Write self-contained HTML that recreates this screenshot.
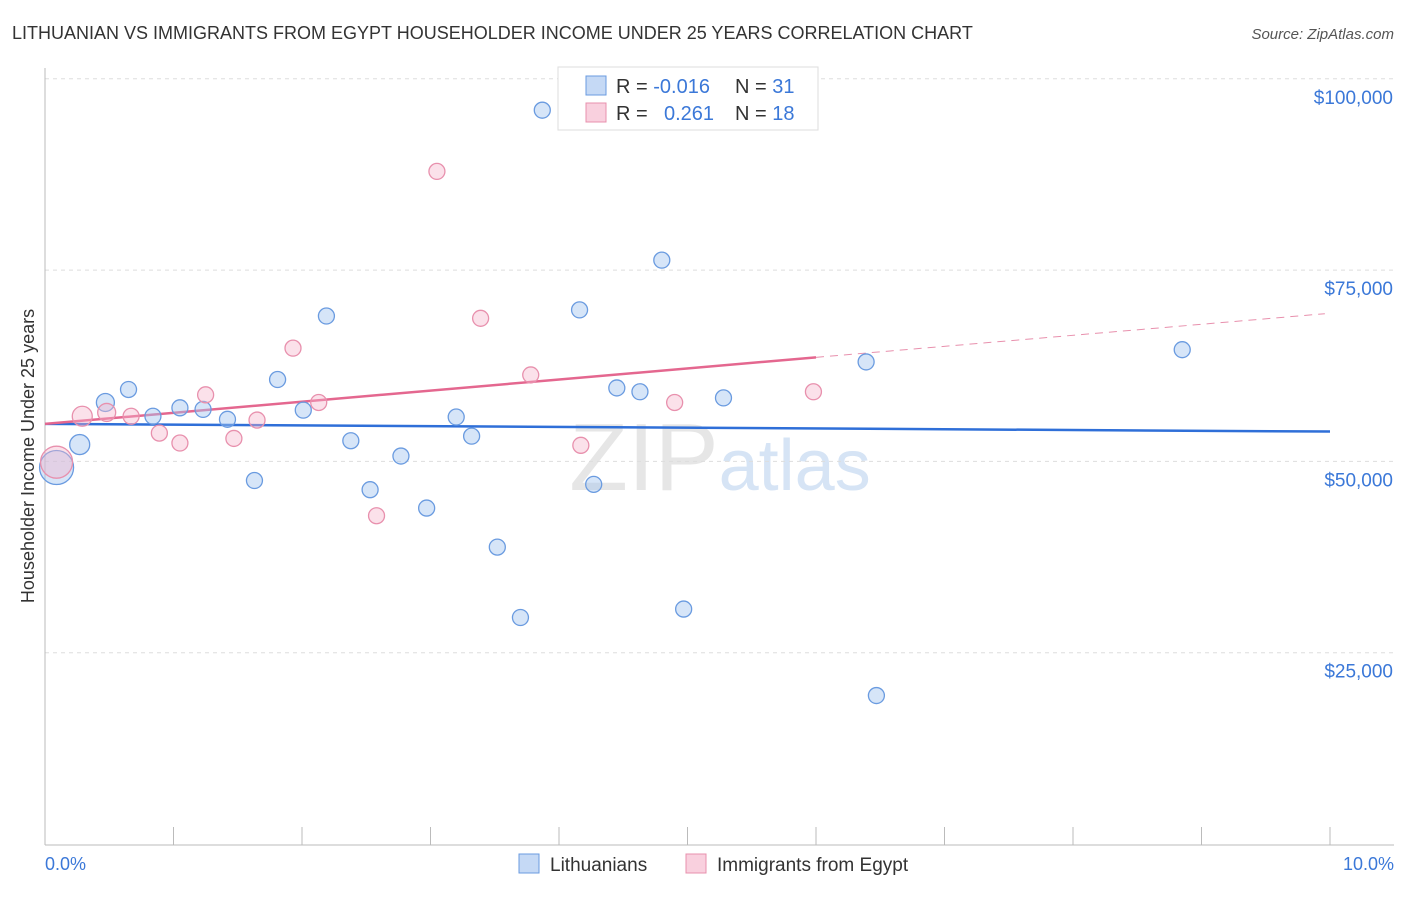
<!DOCTYPE html>
<html><head><meta charset="utf-8"><style>
body{margin:0;background:#fff;font-family:"Liberation Sans",sans-serif;}
svg text{font-family:"Liberation Sans",sans-serif;}
</style></head><body>
<svg width="1406" height="892" viewBox="0 0 1406 892">
<text x="12" y="39" font-size="18" fill="#333">LITHUANIAN VS IMMIGRANTS FROM EGYPT HOUSEHOLDER INCOME UNDER 25 YEARS CORRELATION CHART</text>
<text x="1394" y="39" font-size="15" fill="#555" font-style="italic" text-anchor="end">Source: ZipAtlas.com</text>
<text x="720" y="490" font-size="96" fill="#e6e6e6" text-anchor="middle" font-family="Liberation Serif">ZIP<tspan fill="#d6e4f5" font-family="Liberation Sans" font-size="72">atlas</tspan></text>
<g id="grid"></g>
<line x1="45" y1="68" x2="45" y2="845" stroke="#bbb"/>
<line x1="45" y1="845" x2="1394" y2="845" stroke="#bbb"/>
<g id="xticks"></g>
<text x="45" y="870" font-size="18" fill="#3b78d8">0.0%</text>
<text x="1394" y="870" font-size="18" fill="#3b78d8" text-anchor="end">10.0%</text>
<text transform="translate(34,456) rotate(-90)" font-size="18" fill="#333" text-anchor="middle">Householder Income Under 25 years</text>
<g id="trends"></g>
<g id="points"></g>
<g>
<rect x="558" y="67" width="260" height="63" fill="#fff" stroke="#ddd"/>
<rect x="586" y="76" width="20" height="19" fill="#c5d9f5" stroke="#6a9be0"/>
<rect x="586" y="103" width="20" height="19" fill="#f9d0de" stroke="#e890ad"/>
<text x="616" y="93" font-size="20" fill="#333">R = <tspan fill="#3b78d8">-0.016</tspan><tspan x="735">N = </tspan><tspan fill="#3b78d8">31</tspan></text>
<text x="616" y="120" font-size="20" fill="#333">R = <tspan x="664" fill="#3b78d8">0.261</tspan><tspan x="735">N = </tspan><tspan fill="#3b78d8">18</tspan></text>
</g>
<g>
<rect x="519" y="854" width="20" height="19" fill="#c5d9f5" stroke="#6a9be0"/>
<text x="550" y="871" font-size="19" fill="#333">Lithuanians</text>
<rect x="686" y="854" width="20" height="19" fill="#f9d0de" stroke="#e890ad"/>
<text x="717" y="871" font-size="19" fill="#333">Immigrants from Egypt</text>
</g>
</svg>
<script>
const yTicks=[25000,50000,75000,100000];
const yTickLabels=["$25,000","$50,000","$75,000","$100,000"];
const blueX=[0.09,0.27,0.47,0.65,0.84,1.05,1.23,1.42,1.63,1.81,2.01,2.19,2.38,2.53,2.77,2.97,3.2,3.32,3.52,3.7,3.87,4.16,4.27,4.45,4.63,4.8,4.97,5.28,6.39,6.47,8.85];
const blueY=[49200,52200,57700,59400,55900,57000,56800,55500,47500,60700,56700,69000,52700,46300,50700,43900,55800,53300,38800,29600,95900,69800,47000,59600,59100,76300,30700,58300,63000,19400,64600];
const pinkX=[0.09,0.29,0.48,0.67,0.89,1.05,1.25,1.47,1.65,1.93,2.13,2.58,3.05,3.39,3.78,4.17,4.9,5.98];
const pinkY=[49900,55900,56400,55900,53700,52400,58700,53000,55400,64800,57700,42900,87900,68700,61300,52100,57700,59100];
const blueSize=[17,10,9,8,8,8,8,8,8,8,8,8,8,8,8,8,8,8,8,8,8,8,8,8,8,8,8,8,8,8,8];
const pinkSize=[16,10,9,8,8,8,8,8,8,8,8,8,8,8,8,8,8,8];
const blueTrend=[54900,53900];
const pinkTrend=[54900,63600,69300];
const pinkSolidEnd=6.0, pinkDashEnd=9.96;
const NS="http://www.w3.org/2000/svg";
const X=v=>45+v*128.5, Y=v=>844-v/25000*191.3;
function mk(tag,attrs,parent){const e=document.createElementNS(NS,tag);for(const k in attrs)e.setAttribute(k,attrs[k]);parent.appendChild(e);return e;}
const grid=document.getElementById('grid');
yTicks.forEach((t,i)=>{
 const l=mk('line',{x1:45,x2:1394,y1:Y(t),y2:Y(t),stroke:'#ddd','stroke-dasharray':'4,4'},grid);
 
 
 const tx=mk('text',{x:1393,y:Y(t)+25,'font-size':19,fill:'#3b78d8','text-anchor':'end'},grid);
 tx.textContent=yTickLabels[i];
 
 
});
const xt=document.getElementById('xticks');
for(let i=1;i<=10;i++){const l=mk('line',{x1:X(i),x2:X(i),y1:827,y2:845,stroke:'#bbb'},xt);
 
 }
const tr=document.getElementById('trends');
let b=mk('line',{x1:X(0),y1:Y(blueTrend[0]),x2:X(10),y2:Y(blueTrend[1]),stroke:'#2f6fd8','stroke-width':2.5},tr);


let p=mk('line',{x1:X(0),y1:Y(pinkTrend[0]),x2:X(pinkSolidEnd),y2:Y(pinkTrend[1]),stroke:'#e4678f','stroke-width':2.5},tr);


let pd=mk('line',{x1:X(pinkSolidEnd),y1:Y(pinkTrend[1]),x2:X(pinkDashEnd),y2:Y(pinkTrend[2]),stroke:'#e890ad','stroke-width':1,'stroke-dasharray':'8,6'},tr);


const pts=document.getElementById('points');
blueX.forEach((x,i)=>{const c=mk('circle',{cx:X(x),cy:Y(blueY[i]),r:blueSize[i],fill:'rgba(164,197,240,0.45)',stroke:'#6a9be0','stroke-width':1.3},pts);
 
 });
pinkX.forEach((x,i)=>{const c=mk('circle',{cx:X(x),cy:Y(pinkY[i]),r:pinkSize[i],fill:'rgba(246,180,202,0.4)',stroke:'#e890ad','stroke-width':1.3},pts);
 
 });
</script>
</body></html>
